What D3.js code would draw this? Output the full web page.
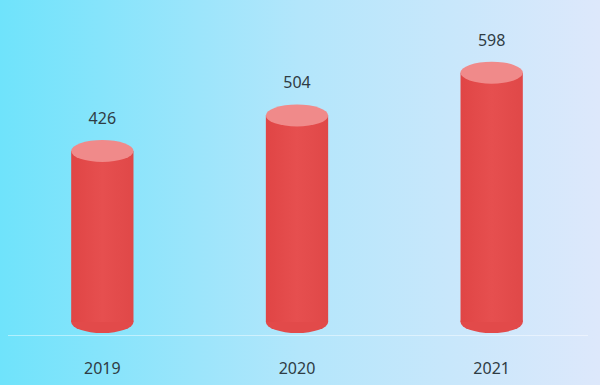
<!DOCTYPE html>
<html><head><meta charset="utf-8">
<script src="https://cdn.jsdelivr.net/npm/d3@7"></script>
<style>html,body{margin:0;padding:0;}svg{display:block;}</style>
</head><body>
<svg id="c" width="600" height="385"></svg>
<script>
const categories = ["2019", "2020", "2021"];
const values = [426, 504, 598];

const W = 600, H = 385;
const svg = d3.select("#c");
const defs = svg.append("defs");
const bg = defs.append("linearGradient").attr("id", "bg").attr("x1", "0").attr("x2", "1").attr("y1", "0").attr("y2", "0");
bg.append("stop").attr("offset", "0").attr("stop-color", "#6fe3fb");
bg.append("stop").attr("offset", "0.5").attr("stop-color", "#b3e6fb");
bg.append("stop").attr("offset", "1").attr("stop-color", "#dde8fb");
const body = defs.append("linearGradient").attr("id", "body").attr("x1", "0").attr("x2", "1");
body.append("stop").attr("offset", "0").attr("stop-color", "#e04545");
body.append("stop").attr("offset", "0.5").attr("stop-color", "#e64f4f");
body.append("stop").attr("offset", "1").attr("stop-color", "#e04848");

svg.append("rect").attr("width", W).attr("height", H).attr("fill", "url(#bg)");

const x = d3.scaleBand().domain(categories).range([5, 589]).paddingInner(0.68).paddingOuter(0.34);
const y = d3.scaleLinear().domain([50, 650]).range([322, 49]);
const rx = x.bandwidth() / 2, ry = 11;

svg.append("line").attr("x1", 8).attr("x2", 588).attr("y1", 335.5).attr("y2", 335.5)
  .attr("stroke", "#ffffff").attr("stroke-opacity", 0.45).attr("stroke-width", 1);

const g = svg.append("g").selectAll("g").data(categories).join("g")
  .attr("transform", d => `translate(${x(d) + rx},0)`);

g.append("ellipse").attr("cx", 0).attr("cy", y(50)).attr("rx", rx).attr("ry", ry).attr("fill", "#e24a4a");
g.append("rect").attr("x", -rx).attr("width", rx * 2)
  .attr("y", (d, i) => y(values[i])).attr("height", (d, i) => y(50) - y(values[i]))
  .attr("fill", "url(#body)");
g.append("ellipse").attr("cx", 0).attr("cy", (d, i) => y(values[i])).attr("rx", rx).attr("ry", ry)
  .attr("fill", "#f08a8a");

g.append("text").attr("x", 0).attr("y", (d, i) => y(values[i]) - 27)
  .attr("text-anchor", "middle").attr("font-family", "Noto Sans, sans-serif").attr("font-size", 16)
  .attr("fill", "#2f3c44").text((d, i) => values[i]);

g.append("text").attr("x", 0).attr("y", 374)
  .attr("text-anchor", "middle").attr("font-family", "Noto Sans, sans-serif").attr("font-size", 16)
  .attr("fill", "#2f3c44").text(d => d);
</script>
</body></html>
